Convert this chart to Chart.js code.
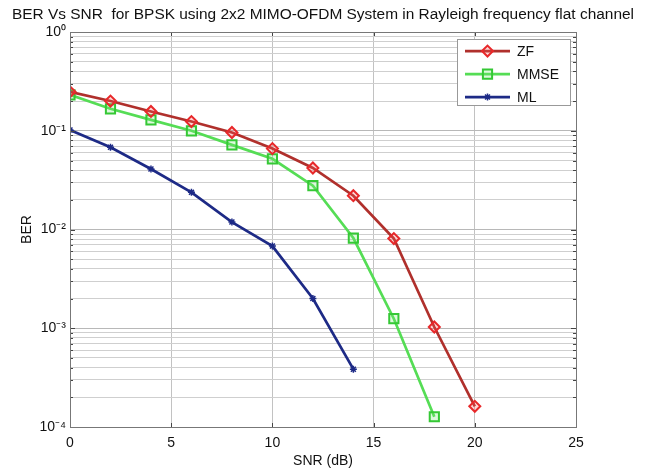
<!DOCTYPE html>
<html>
<head>
<meta charset="utf-8">
<script src="https://cdn.jsdelivr.net/npm/chart.js@4/dist/chart.umd.min.js"></script>
<style>
  html, body { margin: 0; padding: 0; background: #fff; }
  #wrap { width: 646px; height: 470px; position: relative; }
</style>
</head>
<body>
<div id="wrap"><canvas id="c" width="646" height="470"></canvas></div>
<script>
// ---- data ----
const snrZF   = [0, 2, 4, 6, 8, 10, 12, 14, 16, 18, 20];
const berZF   = [0.248, 0.20, 0.157, 0.124, 0.096, 0.066, 0.042, 0.022, 0.0081, 0.00103, 0.000162];
const snrMMSE = [0, 2, 4, 6, 8, 10, 12, 14, 16, 18];
const berMMSE = [0.231, 0.167, 0.129, 0.100, 0.072, 0.052, 0.0278, 0.0082, 0.00125, 0.000127];
const snrML   = [0, 2, 4, 6, 8, 10, 12, 14];
const berML   = [0.102, 0.068, 0.041, 0.0238, 0.0119, 0.0068, 0.0020, 0.000385];

const seriesNames = ['ZF', 'MMSE', 'ML'];
const xTicks = [0, 5, 10, 15, 20, 25];
const yDecades = [1e-4, 1e-3, 1e-2, 1e-1, 1];
const yTickLabels = ['10\u207B\u2074', '10\u207B\u00B3', '10\u207B\u00B2', '10\u207B\u00B9', '10\u2070'];
const yMinorMultipliers = [1, 2, 3, 4, 5, 6, 7, 8, 9];

const titleText = 'BER Vs SNR  for BPSK using 2x2 MIMO-OFDM System in Rayleigh frequency flat channel';
const xTitle = 'SNR (dB)';
const yTitle = 'BER';

const FONT = "'Liberation Sans', Arial, sans-serif";

function pts(xs, ys) { return xs.map((x, i) => ({ x: x, y: ys[i] })); }

const frameAndTicks = {
  id: 'frameAndTicks',
  afterDraw(chart) {
    const { ctx, chartArea: a, scales } = chart;
    ctx.save();
    ctx.strokeStyle = '#444';
    ctx.lineWidth = 1;
    // small inside tick marks (MATLAB style)
    scales.y.ticks.forEach(t => {
      const y = Math.round(scales.y.getPixelForValue(t.value)) + 0.5;
      const len = t.major ? 5 : 3;
      ctx.beginPath();
      ctx.moveTo(a.left, y); ctx.lineTo(a.left + len, y);
      ctx.moveTo(a.right, y); ctx.lineTo(a.right - len, y);
      ctx.stroke();
    });
    scales.x.ticks.forEach(t => {
      const x = Math.round(scales.x.getPixelForValue(t.value)) + 0.5;
      ctx.beginPath();
      ctx.moveTo(x, a.bottom); ctx.lineTo(x, a.bottom - 4);
      ctx.moveTo(x, a.top); ctx.lineTo(x, a.top + 4);
      ctx.stroke();
    });
    // frame
    ctx.strokeStyle = '#777';
    ctx.strokeRect(Math.round(a.left) + 0.5, Math.round(a.top) + 0.5,
                   Math.round(a.right - a.left), Math.round(a.bottom - a.top));
    ctx.restore();
  }
};

const insideLegend = {
  id: 'insideLegend',
  afterDraw(chart) {
    const { ctx, chartArea: a } = chart;
    const boxW = 113, boxH = 66, right = a.right - 6, top = a.top + 7;
    const left = right - boxW;
    ctx.save();
    ctx.fillStyle = '#fff';
    ctx.fillRect(left, top, boxW, boxH);
    ctx.strokeStyle = '#999';
    ctx.lineWidth = 1;
    ctx.strokeRect(Math.round(left) + 0.5, Math.round(top) + 0.5, boxW, boxH);
    chart.data.datasets.forEach((ds, i) => {
      const y = top + 12 + i * 23;
      const x0 = left + 8, x1 = left + 53;
      ctx.strokeStyle = ds.borderColor;
      ctx.lineWidth = ds.borderWidth;
      ctx.beginPath(); ctx.moveTo(x0, y); ctx.lineTo(x1, y); ctx.stroke();
      ctx.strokeStyle = ds.pointBorderColor;
      ctx.fillStyle = ds.pointBackgroundColor;
      ctx.lineWidth = ds.pointBorderWidth;
      Chart.helpers.drawPoint(ctx, { pointStyle: ds.pointStyle, radius: ds.pointRadius, borderWidth: ds.pointBorderWidth, rotation: 0 }, (x0 + x1) / 2, y);
      ctx.fillStyle = '#111';
      ctx.font = '14px ' + FONT;
      ctx.textBaseline = 'middle';
      ctx.textAlign = 'left';
      ctx.fillText(ds.label, x1 + 7, y + 1);
    });
    ctx.restore();
  }
};

new Chart(document.getElementById('c'), {
  type: 'line',
  data: {
    datasets: [
      {
        label: seriesNames[0], data: pts(snrZF, berZF),
        borderColor: '#b0302c', borderWidth: 2.7,
        pointStyle: 'rectRot', pointRadius: 5.5, pointBorderWidth: 2,
        pointBorderColor: '#e8282a', pointBackgroundColor: 'rgba(255,90,90,0.25)'
      },
      {
        label: seriesNames[1], data: pts(snrMMSE, berMMSE),
        borderColor: '#55dd55', borderWidth: 2.7,
        pointStyle: 'rect', pointRadius: 6.5, pointBorderWidth: 2,
        pointBorderColor: '#35c835', pointBackgroundColor: 'rgba(120,230,120,0.25)'
      },
      {
        label: seriesNames[2], data: pts(snrML, berML),
        borderColor: '#1d2a86', borderWidth: 2.7,
        pointStyle: 'star', pointRadius: 3.5, pointBorderWidth: 1.5,
        pointBorderColor: '#1d2a86', pointBackgroundColor: '#1d2a86'
      }
    ]
  },
  options: {
    responsive: false,
    animation: false,
    devicePixelRatio: 1,
    layout: { padding: { left: 0, right: 0, top: 4, bottom: 0 } },
    plugins: {
      legend: { display: false },
      tooltip: { enabled: false },
      title: {
        display: true, text: titleText, color: '#111',
        font: { family: FONT, size: 15.45, weight: 'normal' },
        padding: { top: 1, bottom: 8.5 }
      }
    },
    elements: { line: { tension: 0 } },
    scales: {
      x: {
        type: 'linear', min: 0, max: 25,
        afterBuildTicks(scale) { scale.ticks = xTicks.map(v => ({ value: v })); },
        afterFit(scale) { scale.height = 43; },
        ticks: { color: '#111', font: { family: FONT, size: 14 }, padding: 8, autoSkip: false, maxRotation: 0 },
        grid: { color: '#c2c2c2', lineWidth: 1, drawTicks: false },
        border: { display: false },
        title: { display: true, text: xTitle, color: '#111', font: { family: FONT, size: 14 }, padding: { top: 0, bottom: 0 } }
      },
      y: {
        type: 'logarithmic', min: 1e-4, max: 1,
        afterBuildTicks(scale) {
          const t = [];
          yDecades.forEach((d, i) => {
            if (i === yDecades.length - 1) { t.push({ value: d, major: true }); return; }
            yMinorMultipliers.forEach(m => t.push({ value: d * m, major: m === 1 }));
          });
          scale.ticks = t;
        },
        afterFit(scale) { scale.width = 70; },
        ticks: {
          color: '#111', font: { family: FONT, size: 14 }, padding: 4, autoSkip: false,
          callback(value) {
            const i = yDecades.findIndex(d => Math.abs(d - value) / d < 1e-6);
            return i >= 0 ? yTickLabels[i] : '';
          }
        },
        grid: { color: ctx => (ctx.tick && ctx.tick.major) ? '#b8b8b8' : '#cfcfcf', lineWidth: 1, drawTicks: false },
        border: { display: false },
        title: { display: true, text: yTitle, color: '#111', font: { family: FONT, size: 14 }, padding: { top: 19, bottom: 0 } }
      },
      yRight: {
        type: 'linear', position: 'right', min: 0, max: 1,
        afterFit(scale) { scale.width = 70; },
        ticks: { display: false },
        grid: { display: false, drawTicks: false },
        border: { display: false }
      }
    }
  },
  plugins: [frameAndTicks, insideLegend]
});
</script>
</body>
</html>
